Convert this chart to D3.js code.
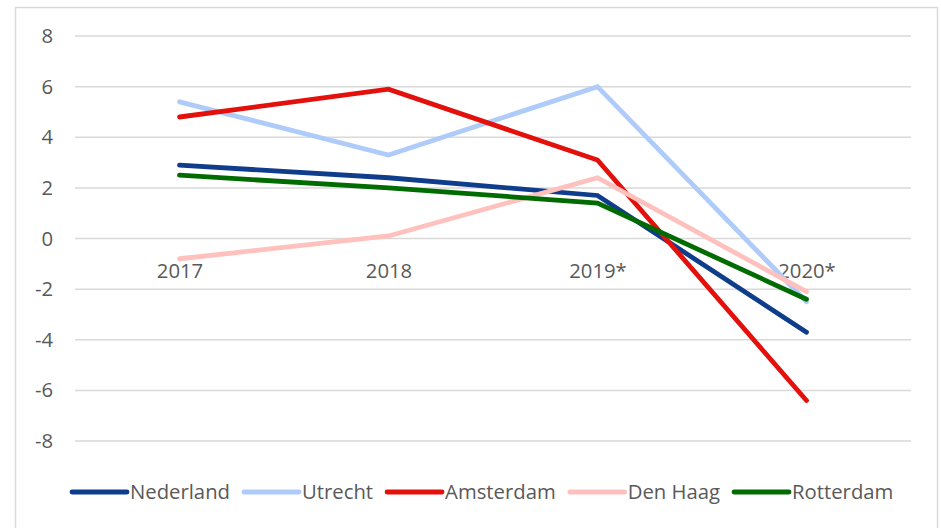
<!DOCTYPE html>
<html>
<head>
<meta charset="utf-8">
<script src="https://cdn.jsdelivr.net/npm/d3@7"></script>
<style>
  html, body { margin: 0; padding: 0; background: #fff; }
  svg { display: block; }
  text { font-family: "Open Sans", sans-serif; fill: #595959; }
</style>
</head>
<body>
<div id="chart"></div>
<script>
// Data:
var years = ['2017', '2018', '2019*', '2020*'];
var yTicks = [-8, -6, -4, -2, 0, 2, 4, 6, 8];

var nederland = [2.9, 2.4, 1.7, -3.7];
var utrecht   = [5.4, 3.3, 6.0, -2.5];
var amsterdam = [4.8, 5.9, 3.1, -6.4];
var denHaag   = [-0.8, 0.1, 2.4, -2.1];
var rotterdam = [2.5, 2.0, 1.4, -2.4];

var series = [
	{ name: 'Nederland', values: nederland, color: '#0f3d8c' },
	{ name: 'Utrecht',   values: utrecht,   color: '#aecbfa' },
	{ name: 'Amsterdam', values: amsterdam, color: '#e3100b' },
	{ name: 'Den Haag',  values: denHaag,   color: '#ffc1bd' },
	{ name: 'Rotterdam', values: rotterdam, color: '#006b00' }
];

var width = 941, height = 528,
	fontSize = 20.3;

var svg = d3.select('#chart').append('svg')
	.attr('width', width)
	.attr('height', height);

// Outer chart border:
svg.append('rect')
	.attr('x', 15.5).attr('y', 7.5)
	.attr('width', 922).attr('height', 530)
	.attr('fill', '#fff')
	.attr('stroke', '#d9d9d9')
	.attr('stroke-width', 1.5);

var x = d3.scalePoint()
	.domain(years)
	.range([75, 911])
	.padding(0.5);

var y = d3.scaleLinear()
	.domain([-8, 8])
	.range([441, 36]);

// Gridlines:
svg.append('g').selectAll('line')
	.data(yTicks)
	.join('line')
		.attr('x1', 75).attr('x2', 911)
		.attr('y1', function(d) { return y(d); })
		.attr('y2', function(d) { return y(d); })
		.attr('stroke', '#d9d9d9')
		.attr('stroke-width', 1.5);

// Y axis labels (plain hyphen for negatives):
var yAxis = svg.append('g')
	.attr('transform', 'translate(61,0)')
	.call(d3.axisLeft(y).tickValues(yTicks).tickSize(0).tickPadding(8)
		.tickFormat(function(d) { return String(d); }));
yAxis.select('.domain').remove();
yAxis.selectAll('text')
	.attr('font-size', fontSize)
	.attr('font-family', '"Open Sans", sans-serif')
	.attr('fill', '#595959');

// Category labels, positioned below the zero line:
var xAxis = svg.append('g')
	.attr('transform', 'translate(0,' + y(0) + ')')
	.call(d3.axisBottom(x).tickSize(0).tickPadding(0));
xAxis.select('.domain').remove();
xAxis.selectAll('text')
	.attr('y', 39)
	.attr('dy', null)
	.attr('font-size', fontSize)
	.attr('font-family', '"Open Sans", sans-serif')
	.attr('fill', '#595959');

// Lines:
var line = d3.line()
	.x(function(d, i) { return x(years[i]); })
	.y(function(d) { return y(d); });

svg.append('g').selectAll('path')
	.data(series)
	.join('path')
		.attr('d', function(s) { return line(s.values); })
		.attr('fill', 'none')
		.attr('stroke', function(s) { return s.color; })
		.attr('stroke-width', 4.8)
		.attr('stroke-linecap', 'round')
		.attr('stroke-linejoin', 'miter');

// Legend, laid out left to right:
var legend = svg.append('g').attr('transform', 'translate(0,492)');
var cursor = 72;
series.forEach(function(s) {
	var item = legend.append('g').attr('transform', 'translate(' + cursor + ',0)');
	item.append('line')
		.attr('x1', 0).attr('x2', 55)
		.attr('stroke', s.color)
		.attr('stroke-width', 4.8)
		.attr('stroke-linecap', 'round');
	var label = item.append('text')
		.attr('x', 58)
		.attr('dy', '0.35em')
		.attr('font-size', fontSize)
		.text(s.name);
	cursor += 58 + label.node().getComputedTextLength() + 14;
});
</script>
</body>
</html>
